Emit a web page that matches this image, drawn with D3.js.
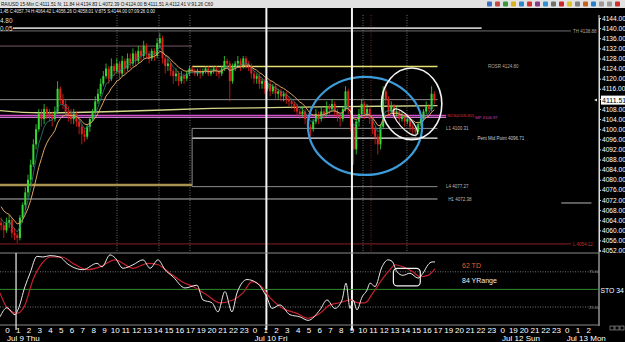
<!DOCTYPE html>
<html lang="en">
<head>
<meta charset="UTF-8">
<title>RAIUSD 15-Min</title>
<style>
  body { margin: 0; background: #000; }
  svg { display: block; font-family: "Liberation Sans", Arial, sans-serif; }
</style>
<script src="https://cdn.jsdelivr.net/npm/d3@7"></script>
</head>
<body>
<script>
// ---- data ----
var hourLabels = ["0","1","2","3","4","5","6","7","8","9","10","11","12","13","14","15","16","17","19","20","21","22","23",
  "0","1","2","3","4","5","6","7","8","9","10","11","12","13","14","15","16","17","19","20","21","22","23",
  "0","19","20","21","22","23","0","1","2"];
var dateLabels = [
  {slot: 0, text: "Jul 9 Thu"},
  {slot: 23, text: "Jul 10 Fri"},
  {slot: 46, text: "Jul 12 Sun"},
  {slot: 52, text: "Jul 13 Mon"}
];

// 15 minute bars, 4 per hour slot
var firstBarSlot = -0.55;
var firstOpen = 4063;
var closes = [4062,4060,4063,4064,4059,4058,4057,4065,4070,4075,
  4080,4086,4094,4100,4106,4104,4108,4106,4105,4104,
  4107,4116,4112,4110,4107,4106,4104,4106,4103,4101,
  4098,4097,4101,4104,4107,4111,4114,4118,4121,4124,
  4120,4125,4123,4126,4122,4127,4124,4128,4126,4130,
  4127,4131,4129,4133,4130,4128,4131,4129,4134,4136,
  4128,4125,4126,4123,4121,4122,4119,4121,4120,4122,
  4124,4123,4122,4123,4122,4123,4124,4122,4123,4124,
  4123,4122,4124,4127,4126,4119,4125,4126,4127,4125,
  4128,4126,4125,4122,4120,4121,4118,4119,4116,4118,
  4115,4117,4114,4115,4113,4114,4112,4111,4110,4109,
  4107,4106,4107,4104,4101,4100,4103,4106,4104,4107,
  4106,4109,4108,4110,4107,4105,4104,4108,4115,4108,
  4101,4092,4103,4106,4110,4106,4108,4104,4100,4097,
  4094,4101,4115,4112,4107,4109,4106,4107,4104,4105,
  4103,4104,4101,4100,4099,4102,4104,4107,4109,4108,
  4114,4111.51];
var highs = [4065,4063,4065,4066,4065,4061,4059,4066,4071,4077,
  4082,4088,4096,4102,4108,4108,4110,4109,4108,4107,
  4109,4119,4117,4114,4112,4109,4108,4108,4107,4104,
  4102,4100,4102,4105,4108,4113,4116,4120,4123,4126,
  4125,4128,4126,4128,4127,4129,4128,4130,4130,4132,
  4131,4133,4133,4135,4134,4131,4132,4132,4136,4138,
  4137,4129,4128,4127,4124,4124,4123,4123,4122,4123,
  4125,4125,4124,4124,4124,4124,4125,4125,4124,4125,
  4125,4124,4125,4129,4128,4127,4126,4127,4129,4128,
  4129,4129,4127,4126,4123,4122,4122,4120,4120,4119,
  4119,4118,4118,4116,4116,4115,4115,4113,4112,4111,
  4110,4108,4109,4108,4105,4102,4104,4108,4107,4109,
  4108,4111,4110,4112,4111,4108,4106,4109,4117,4116,
  4109,4102,4104,4108,4112,4111,4110,4109,4105,4101,
  4098,4102,4117,4116,4113,4111,4110,4109,4108,4107,
  4106,4106,4105,4102,4101,4103,4105,4108,4111,4110,
  4117,4115];
var lows = [4060,4057,4059,4061,4057,4056,4055,4056,4063,4068,
  4073,4078,4085,4092,4099,4101,4102,4104,4103,4101,
  4103,4106,4110,4108,4105,4103,4102,4102,4101,4098,
  4094,4095,4096,4099,4103,4106,4110,4113,4117,4120,
  4118,4119,4121,4122,4120,4121,4122,4123,4124,4125,
  4125,4126,4127,4128,4128,4126,4127,4127,4128,4132,
  4126,4122,4123,4121,4118,4119,4117,4118,4118,4119,
  4121,4122,4121,4121,4120,4121,4122,4121,4121,4122,
  4121,4120,4121,4123,4124,4111,4118,4123,4125,4123,
  4124,4124,4123,4120,4118,4118,4116,4116,4114,4115,
  4113,4114,4112,4112,4111,4111,4110,4109,4108,4107,
  4105,4104,4105,4102,4099,4097,4099,4102,4102,4103,
  4104,4105,4106,4107,4105,4103,4101,4103,4107,4106,
  4099,4086,4090,4101,4105,4104,4105,4102,4098,4094,
  4090,4092,4100,4110,4105,4106,4104,4105,4102,4103,
  4101,4102,4099,4098,4097,4098,4101,4103,4106,4107,
  4107,4110];

// slow moving average, read at a few points [slot, price]
var slowMA = [[-1,4107.5],[3,4106.5],[10,4107],[19,4108.2],[29,4108.8],[40,4109.3]];

// stochastic %K and %D, [slot, value]
var stochK = [[-0.65,11],[0,24],[0.74,14],[1.02,21],[1.67,54],[2.14,73],[2.79,97],[3.34,96],[4,98],[4.92,96],
  [5.57,87],[7.06,78],[8.36,87],[8.83,82],[9.57,99],[10.03,95],[10.78,80],[11.71,85],[12.64,92],[13.29,80],
  [14.03,92],[14.68,78],[15.42,68],[16.54,52],[17.65,56],[18.21,35],[19.05,31],[19.6,18],[20.25,47],[20.9,18],
  [21.37,45],[22.3,64],[23.23,59],[24.16,38],[24.62,23],[25.36,28],[26.29,14],[27.22,11],[27.97,6],[29.08,21],
  [29.73,35],[30.47,23],[31.13,35],[31.5,59],[31.87,23],[32.15,35],[32.52,21],[32.98,39],[33.45,49],[33.73,59],
  [34.19,54],[34.84,82],[35.4,92],[35.77,90],[36.24,75],[36.79,70],[37.44,73],[38.19,66],[38.65,73],[39.12,85],
  [39.49,89],[39.77,89]];
var stochD = [[-0.65,45],[0,24],[0.93,16],[1.67,28],[2.42,64],[3.25,87],[4,96],[5.11,96],[6.13,87],[7.43,78],
  [8.64,82],[10.03,92],[11.71,80],[13.1,87],[14.03,85],[15.14,73],[16.26,61],[17.28,54],[18.58,42],[19.79,31],
  [21,35],[21.93,45],[22.76,61],[23.51,56],[24.44,38],[25.64,23],[26.94,16],[27.97,9],[29.08,16],[30.01,28],
  [30.94,31],[31.87,35],[32.61,31],[33.26,31],[34,45],[34.84,64],[35.58,78],[36.05,85],[36.79,82],[37.72,75],
  [38.37,68],[39.12,70],[39.77,79]];

// horizontal levels drawn on the price panel
var levels = [
  {kind: "band",   price: 4140.0,  from: 0.56, to: 44.1},
  {kind: "thin",   price: 4138.88, from: -1,   to: 52.4, label: "TH 4138.88"},
  {kind: "mauve",  price: 4132.9,  from: -1,   to: 17.2},
  {kind: "yellow", price: 4124.8,  from: 17.2, to: 40,   label: "ROSR 4124.80", labelSlot: 44.5},
  {kind: "grey",   price: 4111.7,  from: -1,   to: 40},
  {kind: "pink",   price: 4105.4,  from: -1,   to: 40.8},
  {kind: "pink2",  price: 4104.7,  from: -1,   to: 40.8},
  {kind: "grey",   price: 4100.31, from: 17.2, to: 40,   label: "L1 4100.31", labelSlot: 40.6},
  {kind: "white",  price: 4096.5,  from: 17.2, to: 40,   label: "\u2190 Pent Mid Point 4096.71", labelSlot: 43},
  {kind: "olive",  price: 4077.9,  from: -1,   to: 17.2},
  {kind: "grey",   price: 4077.27, from: 17.2, to: 40,   label: "L4 4077.27", labelSlot: 40.6},
  {kind: "light",  price: 4072.38, from: -1,   to: 40,   label: "H1 4072.38", labelSlot: 40.8},
  {kind: "light",  price: 4070.8,  from: 51.5, to: 54.3},
  {kind: "red",    price: 4054.6,  from: -1,   to: 52.4, label: "L 4054.12"}
];
var levelStyle = {
  band:   {stroke: "#c4c4c4", width: 1.6, text: "#bbb"},
  thin:   {stroke: "#8a8a8a", width: 0.8, text: "#aaa"},
  mauve:  {stroke: "#7a5868", width: 1,   text: "#aaa"},
  yellow: {stroke: "#e6e070", width: 1.3, text: "#aaa"},
  grey:   {stroke: "#8c8c8c", width: 1,   text: "#bbb"},
  pink:   {stroke: "#d050c8", width: 1.6, text: "#d050c8"},
  pink2:  {stroke: "#ff90ff", width: 1,   text: "#d050c8"},
  white:  {stroke: "#f2f2f2", width: 1.3, text: "#ccc"},
  olive:  {stroke: "#a89450", width: 2.4, text: "#aaa"},
  light:  {stroke: "#b8b8b8", width: 1,   text: "#bbb"},
  red:    {stroke: "#8a1e1e", width: 1,   text: "#c03030"}
};
var solidVerticals = [24.1, 32.05];
var dottedVerticals = [10.22, 14.12, 17.0, 33.08, 37.16];
var redVerticals = [33.82];

// ---- drawing ----
var W = 625, H = 342;
var svg = d3.select("body").append("svg").attr("width", W).attr("height", H);
svg.append("rect").attr("width", W).attr("height", H).attr("fill", "#000");

var x = d3.scaleLinear().domain([0, 54]).range([7, 588.2]);
var y = d3.scaleLinear().domain([4052, 4144]).range([250.5, 18]);
var ys = d3.scaleLinear().domain([0, 100]).range([324.6, 254.2]);

svg.append("clipPath").attr("id", "main").append("rect")
  .attr("x", 0).attr("y", 15).attr("width", 598).attr("height", 237);

var main = svg.append("g").attr("clip-path", "url(#main)");

// verticals
dottedVerticals.forEach(function(s) {
  main.append("line").attr("x1", x(s)).attr("x2", x(s)).attr("y1", 15).attr("y2", 252)
    .attr("stroke", "#6e6e6e").attr("stroke-dasharray", "1,1.5");
});
redVerticals.forEach(function(s) {
  main.append("line").attr("x1", x(s)).attr("x2", x(s)).attr("y1", 15).attr("y2", 252)
    .attr("stroke", "#7a2424").attr("stroke-dasharray", "1,1.5");
});

// levels
levels.forEach(function(d) {
  var st = levelStyle[d.kind];
  main.append("line")
    .attr("x1", x(d.from)).attr("x2", x(d.to))
    .attr("y1", y(d.price)).attr("y2", y(d.price))
    .attr("stroke", st.stroke).attr("stroke-width", st.width);
  if (d.label) {
    svg.append("text")
      .attr("x", x(d.labelSlot != null ? d.labelSlot : d.to) + 2)
      .attr("y", y(d.price) + 1.6)
      .attr("fill", st.text).style("font-size", "4.5px")
      .text(d.label);
  }
});
// box edge
main.append("line").attr("x1", x(17.2)).attr("x2", x(17.2))
  .attr("y1", y(4100.31)).attr("y2", y(4077.27)).attr("stroke", "#8c8c8c");

svg.append("text").attr("x", x(40.8) + 1).attr("y", y(4105.6) + 1.5)
  .attr("fill", "#e03030").style("font-size", "4.2px").text("NCS(4105.92)");
svg.append("text").attr("x", x(43.5)).attr("y", y(4104.5) + 1.5)
  .attr("fill", "#c040c0").style("font-size", "4.2px").text("MP 4106.97");

// slow MA
main.append("path").datum(slowMA)
  .attr("d", d3.line().x(function(d) { return x(d[0]); }).y(function(d) { return y(d[1]); }).curve(d3.curveMonotoneX))
  .attr("fill", "none").attr("stroke", "#d4d68a").attr("stroke-width", 1.3);

// candles
var bars = closes.map(function(c, i) {
  return {slot: firstBarSlot + i * 0.25, o: i === 0 ? firstOpen : closes[i - 1], h: highs[i], l: lows[i], c: c};
});
var cg = main.append("g");
cg.selectAll("line").data(bars).enter().append("line")
  .attr("x1", function(d) { return x(d.slot); }).attr("x2", function(d) { return x(d.slot); })
  .attr("y1", function(d) { return y(d.h); }).attr("y2", function(d) { return y(d.l); })
  .attr("stroke", function(d) { return d.c >= d.o ? "#34d934" : "#e3211c"; }).attr("stroke-width", 0.8);
cg.selectAll("rect").data(bars).enter().append("rect")
  .attr("x", function(d) { return x(d.slot) - 1; }).attr("width", 2)
  .attr("y", function(d) { return y(Math.max(d.o, d.c)); })
  .attr("height", function(d) { return Math.max(0.8, Math.abs(y(d.o) - y(d.c))); })
  .attr("fill", function(d) { return d.c >= d.o ? "#34d934" : "#e3211c"; });

// exponential averages computed from closes
function ema(values, n, seed) {
  var k = 2 / (n + 1), prev = seed;
  return values.map(function(v) { prev = prev + k * (v - prev); return prev; });
}
var emaLine = d3.line().x(function(d) { return x(d[0]); }).y(function(d) { return y(d[1]); });
var fast = ema(closes, 5, 4066), slow = ema(closes, 10, 4071);
main.append("path").datum(bars.map(function(b, i) { return [b.slot, fast[i]]; }))
  .attr("d", emaLine).attr("fill", "none").attr("stroke", "#2f8080").attr("stroke-width", 0.8);
main.append("path").datum(bars.map(function(b, i) { return [b.slot, slow[i]]; }))
  .attr("d", emaLine).attr("fill", "none").attr("stroke", "#e0a462").attr("stroke-width", 1);

// hand drawn annotations
main.append("ellipse").attr("cx", x(33.27)).attr("cy", y(4101.3))
  .attr("rx", x(5.3) - x(0)).attr("ry", y(4052) - y(4052 + 19.4))
  .attr("fill", "none").attr("stroke", "#3c9bd8").attr("stroke-width", 2.2);
main.append("ellipse").attr("cx", x(37.6)).attr("cy", y(4110))
  .attr("rx", x(2.8) - x(0)).attr("ry", y(4052) - y(4052 + 14.2))
  .attr("fill", "none").attr("stroke", "#f4f4f4").attr("stroke-width", 1.6);
main.append("ellipse")
  .attr("transform", "translate(" + x(37.0) + "," + y(4102.8) + ") rotate(48)")
  .attr("rx", 17).attr("ry", 6)
  .attr("fill", "none").attr("stroke", "#f4f4f4").attr("stroke-width", 1.2);

// solid white verticals
solidVerticals.forEach(function(s) {
  svg.append("line").attr("x1", x(s)).attr("x2", x(s)).attr("y1", 8).attr("y2", 330)
    .attr("stroke", "#f4f4f4").attr("stroke-width", 2);
});

// price axis
var axisG = svg.append("g").attr("transform", "translate(599,0)")
  .call(d3.axisRight(y).tickValues(d3.range(4052, 4145, 4)).tickFormat(d3.format(".2f")).tickSize(2).tickPadding(1));
axisG.select(".domain").attr("stroke", "#ddd");
axisG.selectAll("line").attr("stroke", "#ddd");
axisG.selectAll("text").attr("fill", "#fff").style("font-size", "6.6px").style("font-family", "Liberation Sans, Arial");
svg.append("line").attr("x1", 599).attr("x2", 599).attr("y1", 15).attr("y2", 326).attr("stroke", "#ddd");

var last = closes[closes.length - 1];
svg.append("rect").attr("x", 601).attr("y", y(last) - 4.5).attr("width", 24).attr("height", 9).attr("fill", "#fff");
svg.append("text").attr("x", 602).attr("y", y(last) + 2.5).attr("fill", "#000")
  .style("font-size", "7px").text(d3.format(".2f")(last));
svg.append("path").attr("d", "M594," + y(last) + "l3,-1.5v3z").attr("fill", "#ddd");

// ---- stochastic panel ----
var lower = svg.append("g");
lower.append("line").attr("x1", 0).attr("x2", 599).attr("y1", 253).attr("y2", 253).attr("stroke", "#888");
lower.append("line").attr("x1", 0).attr("x2", 599).attr("y1", 325).attr("y2", 325).attr("stroke", "#888");
[75, 25].forEach(function(v) {
  lower.append("line").attr("x1", 0).attr("x2", 599).attr("y1", ys(v)).attr("y2", ys(v))
    .attr("stroke", "#777").attr("stroke-dasharray", "1,1.5");
  lower.append("text").attr("x", 589).attr("y", ys(v) + 1.5).attr("fill", "#999")
    .style("font-size", "4px").text(v.toFixed(2));
});
lower.append("line").attr("x1", 0).attr("x2", 599).attr("y1", ys(50)).attr("y2", ys(50))
  .attr("stroke", "#2e8a2e").attr("stroke-width", 1);
lower.append("line").attr("x1", x(0.84)).attr("x2", x(0.84)).attr("y1", 253).attr("y2", 330)
  .attr("stroke", "#eee").attr("stroke-width", 1.2);

var sLine = d3.line().x(function(d) { return x(d[0]); }).y(function(d) { return ys(d[1]); }).curve(d3.curveMonotoneX);
lower.append("path").datum(stochD).attr("d", sLine).attr("fill", "none").attr("stroke", "#c8202c").attr("stroke-width", 1.2);
lower.append("path").datum(stochK).attr("d", sLine).attr("fill", "none").attr("stroke", "#e8e8e8").attr("stroke-width", 1);

lower.append("rect").attr("x", x(35.9)).attr("y", ys(80)).attr("width", x(38.4) - x(35.9)).attr("height", ys(55) - ys(80))
  .attr("rx", 4).attr("fill", "none").attr("stroke", "#f2f2f2").attr("stroke-width", 1.2);

lower.append("text").attr("x", 462).attr("y", 268).attr("fill", "#e0602c").style("font-size", "7px").text("62 TD");
lower.append("text").attr("x", 462).attr("y", 283).attr("fill", "#eee").style("font-size", "7px").text("84 YRange");
lower.append("text").attr("x", 600.5).attr("y", 292.5).attr("fill", "#fff").style("font-size", "6.8px").text("STO 34");

// ---- time axis ----
var tAxis = svg.append("g").attr("transform", "translate(0,324)")
  .call(d3.axisBottom(x).tickValues(d3.range(hourLabels.length)).tickFormat(function(i) { return hourLabels[i]; }).tickSize(0));
tAxis.select(".domain").remove();
tAxis.selectAll("text").attr("fill", "#fff").style("font-size", "8px").style("font-family", "Liberation Sans, Arial");
svg.selectAll(".date").data(dateLabels).enter().append("text")
  .attr("x", function(d) { return x(d.slot); }).attr("y", 341)
  .attr("fill", "#fff").style("font-size", "8px").text(function(d) { return d.text; });

// small controls bottom right
[0, 1, 2].forEach(function(i) {
  svg.append("rect").attr("x", 610 + i * 5).attr("y", 326).attr("width", 4).attr("height", 4)
    .attr("fill", "none").attr("stroke", "#aaa").attr("stroke-width", 0.6);
});

// ---- header ----
svg.append("rect").attr("x", 0).attr("y", 0).attr("width", W).attr("height", 8).attr("fill", "#e2e2e2");
svg.append("text").attr("x", 1).attr("y", 6).attr("fill", "#111").style("font-size", "5.4px")
  .attr("textLength", 212).attr("lengthAdjust", "spacingAndGlyphs")
  .text("RAIUSD 15-Min C:4111.51 N: 11.84 H:4134.83 L:4072.39 O:4124.00 B:4111.51 A:4112.41 V:91.26 C60");
svg.append("text").attr("x", 0).attr("y", 13).attr("fill", "#eee").style("font-size", "5px")
  .attr("textLength", 155).attr("lengthAdjust", "spacingAndGlyphs")
  .text("1.45 C:4057.74 H:4064.42 L:4056.26 O:4058.01 V:875 S:4144.00 07:09:26 0.00");
svg.append("text").attr("x", 0).attr("y", 23).attr("fill", "#ddd").style("font-size", "6.4px").text("4.80");
svg.append("text").attr("x", 0).attr("y", 30.5).attr("fill", "#ddd").style("font-size", "6.4px").text("0.05");

var iconColors = ["#3a6fc0", "#c84848", "#3a9a3a", "#d8b020", "#2f86d0", "#d03030", "#8a3a8a", "#3090d0",
  "#707070", "#c82828", "#e0c020", "#808080", "#c86020", "#2a80c8", "#9a9a9a", "#9a9a9a", "#d03030"];
iconColors.forEach(function(c, i) {
  svg.append("rect").attr("x", 487 + i * 8).attr("y", 1.5).attr("width", 5).attr("height", 5)
    .attr("rx", 1).attr("fill", c);
});
</script>
</body>
</html>
